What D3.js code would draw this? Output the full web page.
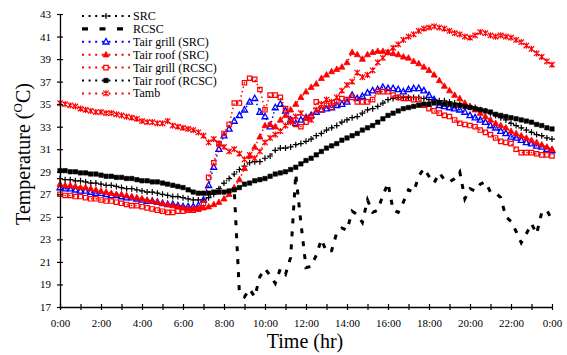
<!DOCTYPE html>
<html>
<head>
<meta charset="utf-8">
<script src="https://cdn.jsdelivr.net/npm/d3@7"></script>
<style>
  body { margin: 0; background: #fff; }
  text { font-family: "Liberation Serif", "Times New Roman", serif; fill: #000; }
</style>
</head>
<body>
<div id="chart"></div>
<script>
// sample times, every 15 min
const hours = d3.range(0, 24.001, 0.25);

const src = [
  28.4, 28.3, 28.3, 28.2, 28.2, 28.1, 28.0, 28.0, 27.9, 27.8, 27.8, 27.7, 27.6,
  27.5, 27.5, 27.4, 27.3, 27.2, 27.2, 27.1, 27.0, 26.9, 26.8, 26.8, 26.7,
  26.6, 26.5, 26.5, 26.5, 26.7, 27.0, 27.5, 28.0, 28.4, 28.8, 29.2, 29.5,
  29.8, 29.9, 29.9, 30.2, 30.4, 30.9, 31.1, 31.1, 31.2, 31.4, 31.5, 31.7,
  31.9, 32.2, 32.4, 32.7, 32.9, 33.1, 33.4, 33.6, 33.8, 33.9, 34.2, 34.5,
  34.6, 34.8, 35.1, 35.4, 35.5, 35.6, 35.6, 35.6, 35.6, 35.6, 35.5, 35.4,
  35.4, 35.3, 35.3, 35.2, 35.1, 35.0, 34.9, 34.8, 34.7, 34.5, 34.4, 34.2,
  34.0, 33.8, 33.6, 33.3, 33.1, 32.9, 32.7, 32.5, 32.3, 32.2, 32.0, 31.9
];

const rcsc = [
  29.1, 29.1, 29.0, 29.0, 28.9, 28.9, 28.8, 28.8, 28.7, 28.6, 28.6, 28.5, 28.5,
  28.4, 28.4, 28.3, 28.2, 28.2, 28.1, 28.1, 28.0, 27.9, 27.8, 27.7, 27.6,
  27.4, 27.2, 27.1, 27.1, 27.1, 27.2, 27.2, 27.2, 27.3, 27.4, 18.3, 17.9,
  18.6, 17.9, 19.7, 20.4, 19.8, 19.1, 20.4, 19.9, 21.4, 28.8, 24.5, 20.5,
  20.6, 21.6, 23.0, 21.9, 22.0, 23.6, 24.0, 23.8, 25.5, 25.2, 24.5, 26.5,
  25.4, 25.6, 26.9, 28.0, 25.6, 25.4, 26.3, 27.4, 27.2, 28.6, 29.3, 28.6,
  28.0, 28.9, 28.3, 28.1, 28.4, 29.0, 26.6, 27.5, 27.3, 27.9, 28.1, 27.2,
  27.1, 26.7, 25.0, 24.6, 23.7, 22.7, 23.5, 24.4, 23.5, 25.4, 25.6, 24.7
];

const grillSRC = [
  27.6, 27.5, 27.5, 27.4, 27.3, 27.3, 27.2, 27.1, 27.1, 27.0, 26.9, 26.9, 26.8,
  26.7, 26.7, 26.6, 26.5, 26.4, 26.4, 26.3, 26.2, 26.1, 26.1, 26.0, 25.9,
  25.9, 25.9, 26.0, 26.5, 27.8, 29.4, 31.0, 32.2, 32.8, 33.5, 34.0, 34.5,
  35.2, 35.5, 34.3, 33.9, 33.0, 34.7, 35.0, 34.4, 33.6, 33.3, 33.6, 33.8,
  34.0, 34.3, 34.5, 34.6, 34.7, 34.9, 35.0, 35.2, 35.8, 35.5, 35.7, 36.0,
  36.2, 36.3, 36.5, 36.4, 36.4, 36.3, 36.1, 36.3, 36.4, 36.4, 36.2, 35.8,
  35.4, 34.9, 34.8, 34.7, 34.6, 34.5, 34.3, 34.0, 33.8, 33.6, 33.4, 33.1,
  32.9, 32.6, 32.4, 32.1, 32.0, 31.8, 31.6, 31.5, 31.3, 31.2, 31.0, 30.9
];

const roofSRC = [
  27.9, 27.8, 27.8, 27.7, 27.6, 27.6, 27.5, 27.4, 27.3, 27.2, 27.1, 27.0, 27.0,
  26.9, 26.8, 26.7, 26.6, 26.5, 26.4, 26.3, 26.2, 26.1, 26.0, 25.9, 25.8,
  25.7, 25.7, 25.7, 25.8, 25.9, 26.1, 26.3, 26.6, 27.0, 27.6, 28.3, 29.3,
  30.4, 31.2, 32.1, 33.1, 33.2, 33.0, 33.6, 34.0, 34.5, 35.0, 35.6, 36.1,
  36.5, 36.8, 37.3, 37.6, 37.9, 38.1, 38.3, 38.7, 39.6, 39.4, 39.0, 39.4,
  39.6, 39.7, 39.7, 39.6, 39.5, 39.4, 39.2, 39.1, 38.8, 38.6, 38.3, 38.0,
  37.6, 37.1, 36.6, 36.2, 35.8, 35.5, 35.1, 34.8, 34.5, 34.2, 33.9, 33.6,
  33.3, 33.1, 32.9, 32.6, 32.4, 32.2, 32.0, 31.8, 31.6, 31.4, 31.2, 31.0
];

const grillRCSC = [
  27.0, 26.9, 26.9, 26.8, 26.8, 26.7, 26.6, 26.6, 26.5, 26.4, 26.4, 26.3, 26.2,
  26.1, 26.0, 26.0, 25.9, 25.8, 25.7, 25.6, 25.5, 25.4, 25.4, 25.5, 25.5,
  25.6, 25.6, 25.7, 26.2, 28.5, 29.8, 31.5, 32.4, 33.2, 35.1, 35.1, 36.9,
  37.3, 37.2, 36.3, 34.5, 35.8, 35.8, 35.6, 34.6, 33.6, 33.2, 33.0, 33.4,
  33.9, 35.2, 34.5, 34.9, 34.7, 35.2, 35.5, 35.4, 35.6, 35.2, 35.2, 35.2,
  35.4, 36.1, 36.1, 36.1, 35.8, 35.6, 35.5, 35.5, 35.4, 35.4, 34.9, 34.6,
  34.4, 34.2, 34.0, 33.9, 33.6, 33.3, 33.2, 33.1, 33.0, 32.7, 32.5, 32.3,
  32.0, 31.7, 31.6, 31.5, 31.0, 30.7, 30.7, 30.7, 30.6, 30.5, 30.5, 30.4
];

const roofRCSC = [
  29.1, 29.1, 29.0, 29.0, 28.9, 28.9, 28.8, 28.8, 28.7, 28.6, 28.6, 28.5, 28.5,
  28.4, 28.4, 28.3, 28.2, 28.2, 28.1, 28.1, 28.0, 27.9, 27.8, 27.7, 27.6,
  27.4, 27.2, 27.1, 27.1, 27.1, 27.2, 27.2, 27.2, 27.3, 27.4, 27.6, 27.9,
  28.0, 28.2, 28.3, 28.4, 28.6, 28.8, 28.9, 29.0, 29.2, 29.4, 29.7, 30.0,
  30.2, 30.5, 30.8, 31.1, 31.3, 31.5, 31.8, 32.0, 32.2, 32.4, 32.7, 32.9,
  33.1, 33.4, 33.7, 34.0, 34.2, 34.4, 34.6, 34.7, 34.8, 34.9, 35.0, 35.0,
  35.1, 35.1, 35.0, 35.0, 34.9, 34.9, 34.8, 34.7, 34.6, 34.5, 34.4, 34.3,
  34.1, 34.0, 33.9, 33.8, 33.7, 33.6, 33.5, 33.4, 33.2, 33.1, 32.9, 32.8
];

const tamb = [
  35.1, 35.0, 34.9, 34.8, 34.6, 34.5, 34.4, 34.3, 34.3, 34.2, 34.2, 34.1, 34.0,
  33.9, 33.8, 33.7, 33.5, 33.4, 33.4, 33.3, 33.3, 33.5, 33.1, 33.0, 32.9,
  32.8, 32.7, 32.5, 32.2, 31.6, 31.9, 31.5, 31.2, 30.8, 31.0, 30.6, 30.1,
  30.5, 30.2, 30.8, 31.6, 32.0, 32.3, 32.6, 33.1, 33.4, 33.9, 34.2, 33.8,
  33.6, 34.5, 35.0, 35.4, 35.2, 35.6, 36.2, 36.7, 37.0, 37.8, 37.4, 37.6,
  38.0, 38.7, 39.1, 39.6, 40.0, 40.3, 40.7, 41.0, 41.2, 41.5, 41.7, 41.8,
  41.9, 41.8, 41.7, 41.5, 41.3, 41.2, 41.0, 40.9, 41.1, 41.4, 41.3, 41.1,
  41.0, 41.1, 41.0, 40.9, 40.7, 40.5, 40.2, 39.9, 39.5, 39.2, 38.8, 38.5
];

const seriesNames = ["SRC", "RCSC", "Tair grill (SRC)", "Tair roof (SRC)",
  "Tair grill (RCSC)", "Tair roof (RCSC)", "Tamb"];
const tickHours = d3.range(0, 25, 1);
const yTicks = d3.range(17, 44, 2);

const W = 567, H = 355;
const svg = d3.select("#chart").append("svg")
  .attr("width", W).attr("height", H);

const x = d3.scaleLinear().domain([0, 24]).range([60, 552]);
const y = d3.scaleLinear().domain([17, 43]).range([307, 14]);

// marker shapes
const markers = {
  plus: "M-3,0H3M0,-3V3",
  tri: "M0,-3.3L3,2.2H-3Z",
  square: "M-2.2,-2.2H2.2V2.2H-2.2Z",
  star: "M-2.7,-2.7L2.7,2.7M-2.7,2.7L2.7,-2.7M0,-3.1V3.1",
  none: null
};

const series = [
  { name: seriesNames[0], values: src, color: "#000", dash: "1.5,3", width: 1.5, marker: "plus", fill: "none", mw: 1.2 },
  { name: seriesNames[1], values: rcsc, color: "#000", dash: "5,8", width: 3, marker: "none" },
  { name: seriesNames[2], values: grillSRC, color: "#0000ff", dash: "1.5,3", width: 1.5, marker: "tri", fill: "none", mw: 1.3 },
  { name: seriesNames[3], values: roofSRC, color: "#ff0000", dash: "1.5,3", width: 1.5, marker: "tri", fill: "#ff0000", mw: 0.8 },
  { name: seriesNames[4], values: grillRCSC, color: "#ff0000", dash: "1.5,3", width: 1.5, marker: "square", fill: "none", mw: 1.2 },
  { name: seriesNames[5], values: roofRCSC, color: "#000", dash: "1.5,3", width: 1.5, marker: "square", fill: "#000", mw: 0.6 },
  { name: seriesNames[6], values: tamb, color: "#ff0000", dash: "1.5,3", width: 1.5, marker: "star", fill: "none", mw: 1.2 }
];

const line = d3.line().x((d, i) => x(hours[i])).y(d => y(d));

const plot = svg.append("g");
series.forEach(s => {
  const g = plot.append("g");
  g.append("path")
    .attr("d", line(s.values))
    .attr("fill", "none")
    .attr("stroke", s.color)
    .attr("stroke-width", s.width)
    .attr("stroke-dasharray", s.dash);
  if (markers[s.marker]) {
    g.selectAll("path.m").data(s.values).join("path")
      .attr("class", "m")
      .attr("d", markers[s.marker])
      .attr("transform", (d, i) => `translate(${x(hours[i])},${y(d)})`)
      .attr("fill", s.fill)
      .attr("stroke", s.color)
      .attr("stroke-width", s.mw);
  }
});

// axes
const xAxis = d3.axisBottom(x).tickValues(tickHours).tickSizeInner(3).tickSizeOuter(0)
  .tickFormat(d => d % 2 === 0 ? (d % 24) + ":00" : "");
const gx = svg.append("g").attr("transform", "translate(0,307)").call(xAxis);
gx.selectAll(".tick line").attr("y1", -3).attr("y2", 3).attr("stroke-width", 1.2);
gx.select(".domain").attr("stroke-width", 1.3);
gx.selectAll("text").attr("y", 12).attr("font-size", 11)
  .attr("font-family", "Liberation Serif, serif");

const yAxis = d3.axisLeft(y).tickValues(yTicks).tickSizeInner(3).tickSizeOuter(0);
const gy = svg.append("g").attr("transform", "translate(60,0)").call(yAxis);
gy.selectAll(".tick line").attr("x1", 3).attr("x2", -3).attr("stroke-width", 1.2);
gy.select(".domain").attr("stroke-width", 1.3);
gy.selectAll("text").attr("x", -9).attr("font-size", 11)
  .attr("font-family", "Liberation Serif, serif");

// axis titles
svg.append("text")
  .attr("x", 305).attr("y", 348)
  .attr("text-anchor", "middle")
  .attr("font-size", 20)
  .text("Time (hr)");

const yl = svg.append("text")
  .attr("transform", "translate(30,154) rotate(-90)")
  .attr("text-anchor", "middle")
  .attr("font-size", 20);
yl.append("tspan").text("Temperature (");
yl.append("tspan").attr("font-size", 13).attr("dy", -8).text("O");
yl.append("tspan").attr("dy", 8).text("C)");

// legend
const legend = svg.append("g");
series.forEach((s, i) => {
  const ly = 16 + i * 12.9;
  const row = legend.append("g").attr("transform", `translate(0,${ly})`);
  row.append("line")
    .attr("x1", 82).attr("x2", 130)
    .attr("stroke", s.color)
    .attr("stroke-width", s.marker === "none" ? 3.3 : 2)
    .attr("stroke-dasharray", s.marker === "none" ? "6,11.5" : "2,4.6");
  if (markers[s.marker]) {
    row.append("path")
      .attr("d", markers[s.marker])
      .attr("transform", "translate(106,0)")
      .attr("fill", s.fill === "none" ? "#fff" : s.fill)
      .attr("stroke", s.color)
      .attr("stroke-width", s.mw);
  }
  row.append("text")
    .attr("x", 133).attr("y", 4)
    .attr("font-size", 12)
    .text(s.name);
});
</script>
</body>
</html>
